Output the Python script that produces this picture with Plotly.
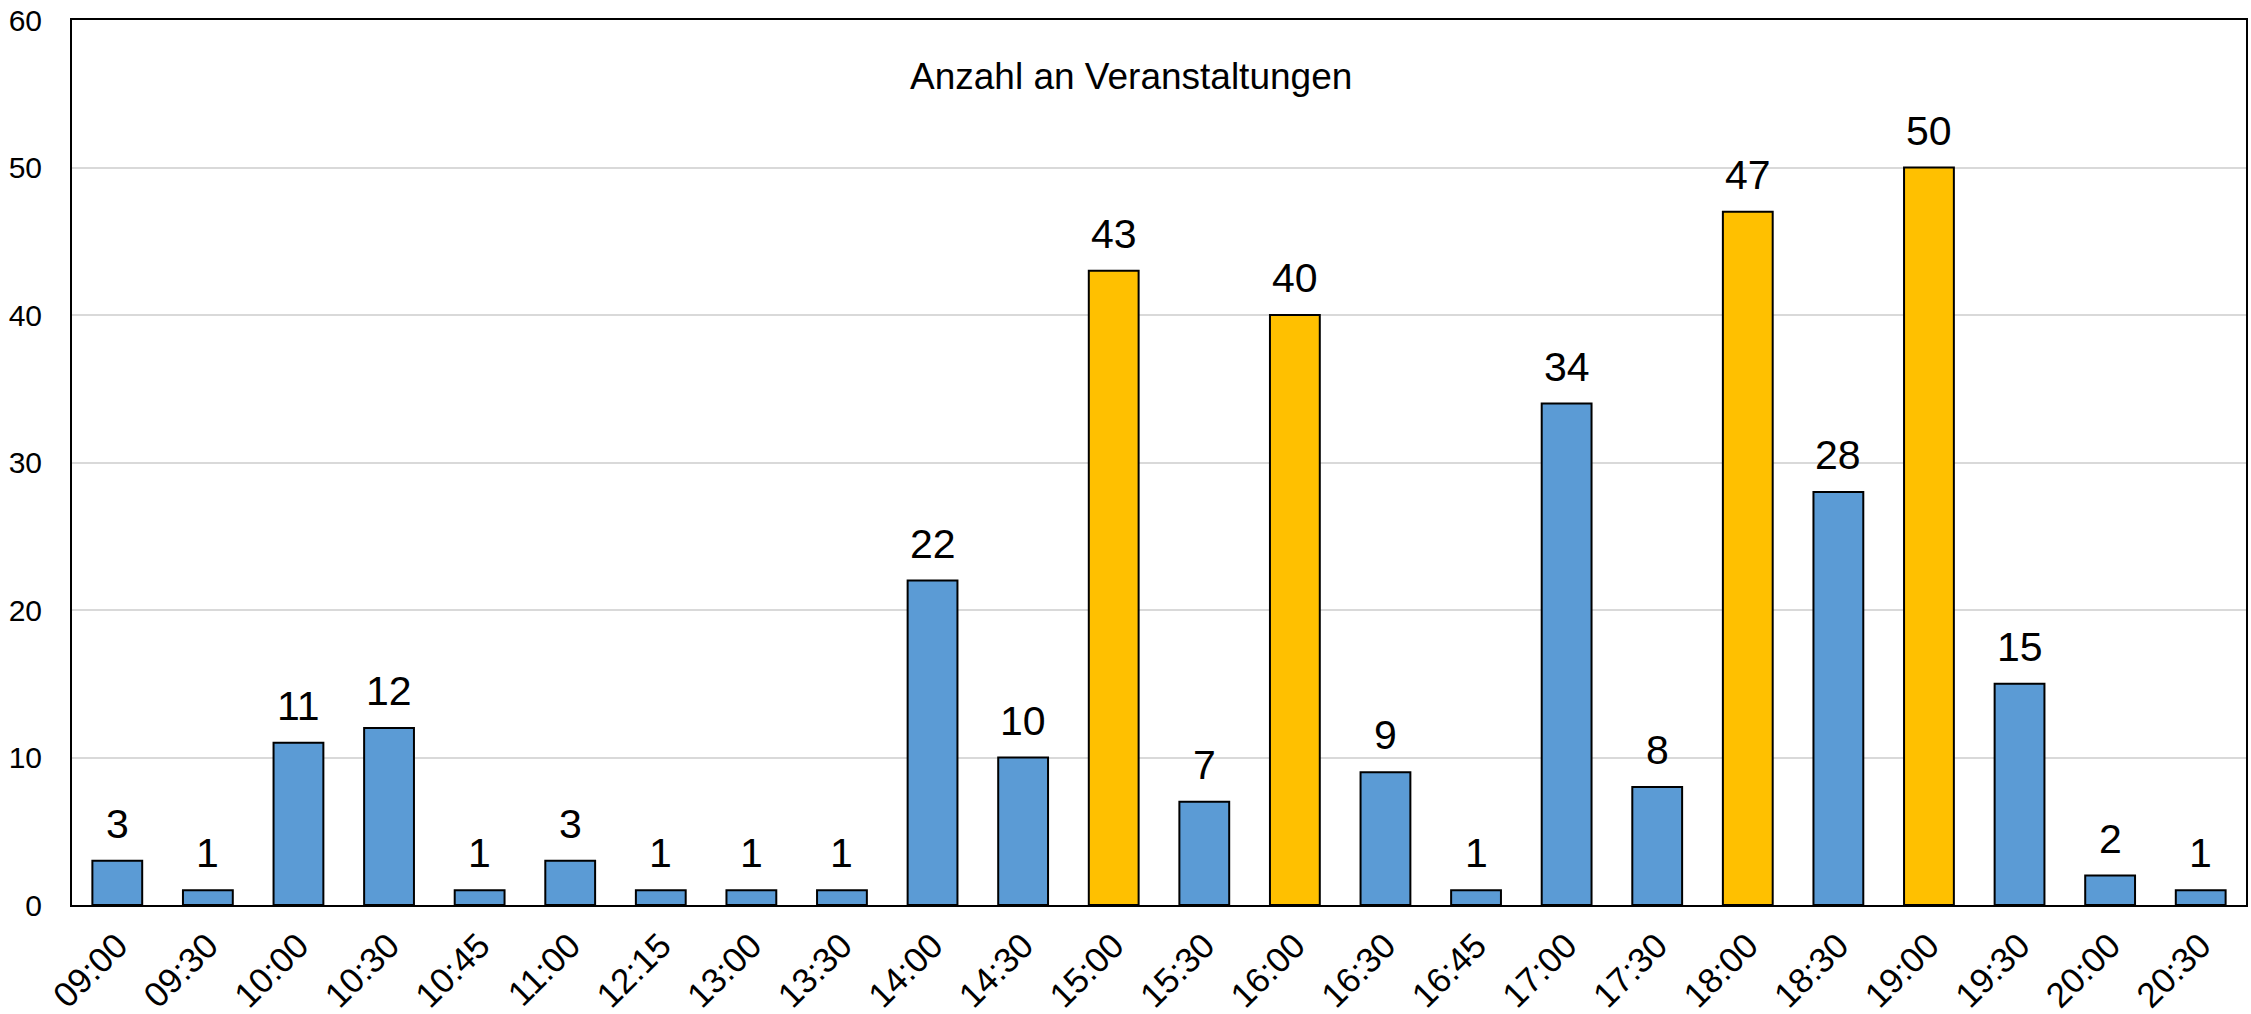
import plotly.graph_objects as go

categories = ["09:00", "09:30", "10:00", "10:30", "10:45", "11:00", "12:15", "13:00", "13:30",
              "14:00", "14:30", "15:00", "15:30", "16:00", "16:30", "16:45", "17:00", "17:30",
              "18:00", "18:30", "19:00", "19:30", "20:00", "20:30"]
values = [3, 1, 11, 12, 1, 3, 1, 1, 1, 22, 10, 43, 7, 40, 9, 1, 34, 8, 47, 28, 50, 15, 2, 1]
highlight = ["15:00", "16:00", "18:00", "19:00"]
y_ticks = [0, 10, 20, 30, 40, 50, 60]
title_text = "Anzahl an Veranstaltungen"

BLUE = "#5B9BD5"
YELLOW = "#FFC000"
FONT = "Liberation Sans, Arial, sans-serif"
colors = [YELLOW if c in highlight else BLUE for c in categories]

fig = go.Figure(go.Bar(
    x=categories, y=values,
    marker=dict(color=colors, line=dict(color="black", width=2)),
))

label_annotations = [
    dict(x=c, y=v, xref="x", yref="y", text=str(v), showarrow=False,
         yanchor="bottom", xanchor="center", yshift=12,
         font=dict(size=41, color="black", family=FONT))
    for c, v in zip(categories, values)
]

fig.update_layout(
    width=2251, height=1014,
    margin=dict(l=72, r=5, t=20, b=109),
    paper_bgcolor="white", plot_bgcolor="white",
    bargap=0.45,
    showlegend=False,
    font=dict(family=FONT, color="black", size=30),
    xaxis=dict(type="category", tickangle=-45, tickfont=dict(size=35, family=FONT),
               showline=True, linecolor="black", linewidth=2, mirror=True,
               ticks="", showgrid=False, automargin=False, ticklabelstandoff=4),
    yaxis=dict(range=[0, 60], tickvals=y_ticks, tickfont=dict(size=30, family=FONT),
               showline=True, linecolor="black", linewidth=2, mirror=True,
               gridcolor="#D9D9D9", gridwidth=1.5, ticks="", zeroline=False,
               ticklabelstandoff=22, automargin=False),
    annotations=[dict(text=title_text, xref="paper", yref="paper", x=0.487, y=0.936,
                      showarrow=False, font=dict(size=37, color="black", family=FONT),
                      xanchor="center", yanchor="middle")] + label_annotations,
)

fig.write_html("out.html", config={"displayModeBar": False},
               post_script="document.body.style.margin='0';document.body.style.overflow='hidden';")
